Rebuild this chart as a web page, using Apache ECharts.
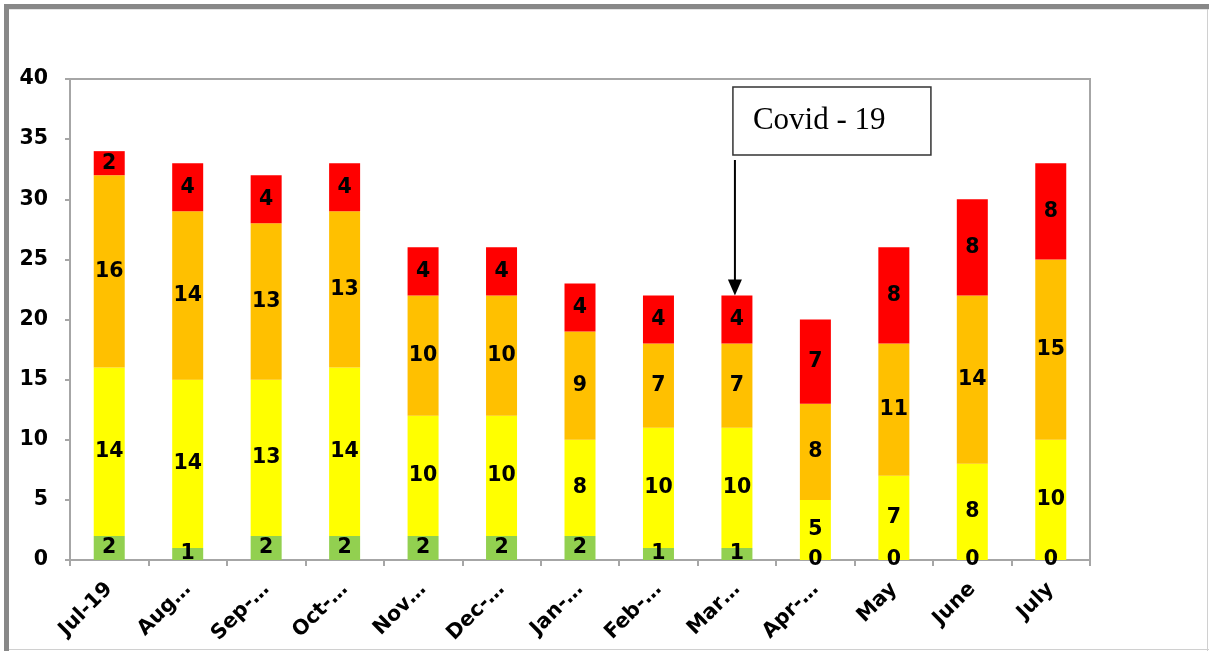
<!DOCTYPE html>
<html>
<head>
<meta charset="utf-8">
<script src="https://cdn.jsdelivr.net/npm/echarts@6/dist/echarts.min.js"></script>
<style>
  html, body { margin: 0; padding: 0; background: #fff; }
  #chart { width: 1209px; height: 651px; }
</style>
</head>
<body>
<div id="chart"></div>
<script>
// Monthly counts by status band
const months = ['Jul-19', 'Aug…', 'Sep-…', 'Oct-…', 'Nov…', 'Dec-…', 'Jan-…', 'Feb-…', 'Mar…', 'Apr-…', 'May', 'June', 'July'];
const greenVals  = [2, 1, 2, 2, 2, 2, 2, 1, 1, 0, 0, 0, 0];
const yellowVals = [14, 14, 13, 14, 10, 10, 8, 10, 10, 5, 7, 8, 10];
const orangeVals = [16, 14, 13, 13, 10, 10, 9, 7, 7, 8, 11, 14, 15];
const redVals    = [2, 4, 4, 4, 4, 4, 4, 4, 4, 7, 8, 8, 8];
const yTicks = { min: 0, max: 40, interval: 5 };
const noteText = 'Covid - 19';
const noteMonth = 'Mar…';

const FONT = 'DejaVu Sans';
const FONT_SIZE = 20.5;
const axisGrey = '#a6a6a6';

function band(name, data, color) {
  return {
    name, type: 'bar', stack: 'total', data,
    barWidth: 31,
    itemStyle: { color },
    label: {
      show: true, position: 'inside', color: '#000',
      fontFamily: FONT, fontWeight: 'bold', fontSize: FONT_SIZE
    }
  };
}

const chart = echarts.init(document.getElementById('chart'));
chart.setOption({
  animation: false,
  grid: { left: 70, right: 119, top: 79, bottom: 91, show: true, borderColor: axisGrey, borderWidth: 2 },
  xAxis: {
    type: 'category', data: months,
    axisLine: { lineStyle: { color: axisGrey, width: 2 } },
    axisTick: { show: true, length: 6, lineStyle: { color: axisGrey, width: 2 } },
    axisLabel: { rotate: 45, interval: 0, color: '#000', fontFamily: FONT, fontWeight: 'bold', fontSize: FONT_SIZE, margin: 26 }
  },
  yAxis: {
    type: 'value', min: yTicks.min, max: yTicks.max, interval: yTicks.interval,
    splitLine: { show: false },
    axisLine: { show: true, lineStyle: { color: axisGrey, width: 2 } },
    axisTick: { show: true, length: 5, lineStyle: { color: axisGrey, width: 2 } },
    axisLabel: { color: '#000', fontFamily: FONT, fontWeight: 'bold', fontSize: FONT_SIZE, margin: 22 }
  },
  series: [
    band('green', greenVals, '#92D050'),
    band('yellow', yellowVals, '#FFFF00'),
    band('orange', orangeVals, '#FFC000'),
    band('red', redVals, '#FF0000')
  ]
});

// Frame, callout box and arrow pointing at the top of the annotated bar
const idx = months.indexOf(noteMonth);
const total = greenVals[idx] + yellowVals[idx] + orangeVals[idx] + redVals[idx];
const tip = chart.convertToPixel({ gridIndex: 0 }, [idx, total]);
const ax = tip[0] - 2;
chart.setOption({
  graphic: [
    { type: 'line', shape: { x1: 6.5, y1: 4, x2: 6.5, y2: 651 }, style: { stroke: '#888', lineWidth: 5 } },
    { type: 'line', shape: { x1: 4, y1: 6.5, x2: 1209, y2: 6.5 }, style: { stroke: '#888', lineWidth: 5 } },
    { type: 'line', shape: { x1: 9, y1: 9.5, x2: 1209, y2: 9.5 }, style: { stroke: '#e4e4e4', lineWidth: 1 } },
    { type: 'line', shape: { x1: 1207.5, y1: 9, x2: 1207.5, y2: 651 }, style: { stroke: '#d0d0d0', lineWidth: 1 } },
    { type: 'line', shape: { x1: 9, y1: 649.5, x2: 1209, y2: 649.5 }, style: { stroke: '#d0d0d0', lineWidth: 1 } },
    { type: 'rect', shape: { x: ax - 2, y: 87, width: 198, height: 68 }, style: { fill: '#fff', stroke: '#333', lineWidth: 1.5 } },
    { type: 'text', x: ax + 18, y: 121, style: { text: noteText, font: '31px "Liberation Serif"', fill: '#000', textVerticalAlign: 'middle' } },
    { type: 'line', shape: { x1: ax, y1: 160, x2: ax, y2: tip[1] - 14 }, style: { stroke: '#000', lineWidth: 2 } },
    { type: 'polygon', shape: { points: [[ax - 7, tip[1] - 16], [ax + 7, tip[1] - 16], [ax, tip[1]]] }, style: { fill: '#000' } }
  ]
});
</script>
</body>
</html>
